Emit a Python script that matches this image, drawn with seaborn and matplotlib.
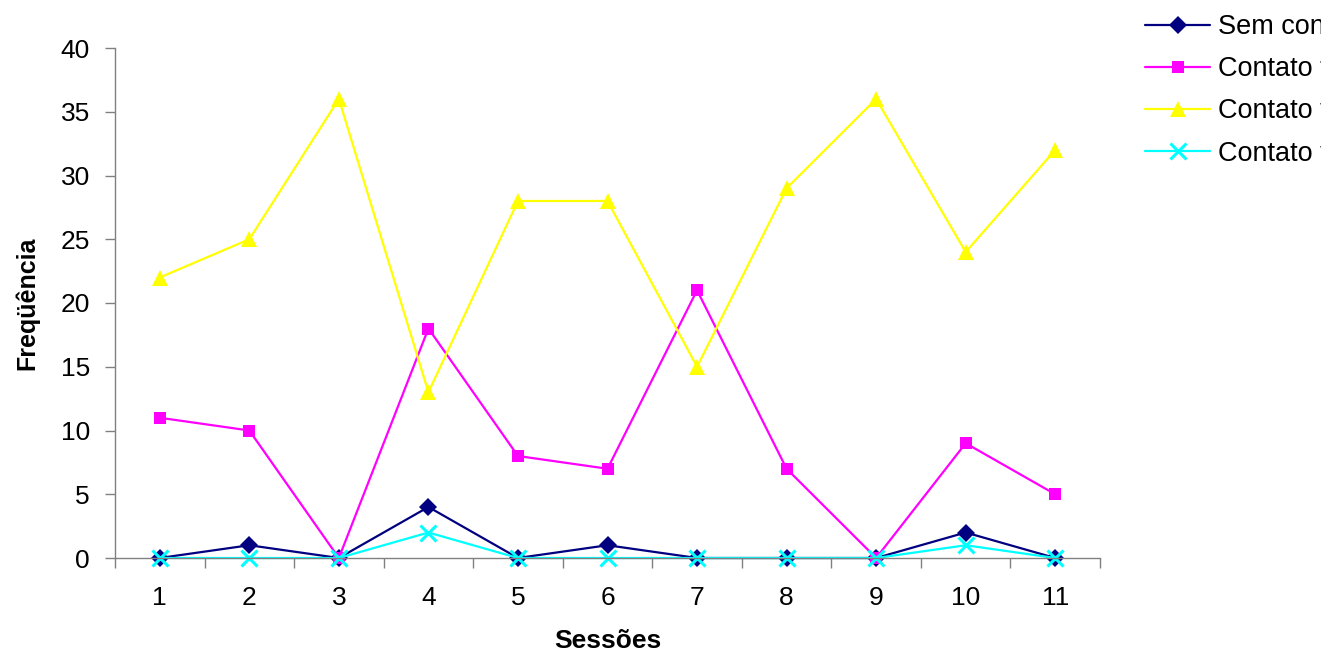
import matplotlib
matplotlib.use("Agg")
import matplotlib.pyplot as plt
import seaborn as sns
import pandas as pd

sessoes = [1, 2, 3, 4, 5, 6, 7, 8, 9, 10, 11]
sem_contato = [0, 1, 0, 4, 0, 1, 0, 0, 0, 2, 0]
contato_a = [11, 10, 0, 18, 8, 7, 21, 7, 0, 9, 5]
contato_b = [22, 25, 36, 13, 28, 28, 15, 29, 36, 24, 32]
contato_c = [0, 0, 0, 2, 0, 0, 0, 0, 0, 1, 0]
labels = ["Sem contato", "Contato físico", "Contato visual", "Contato verbal"]

sns.set_style("white")
plt.rcParams['font.family'] = ['Liberation Sans', 'DejaVu Sans']
plt.rcParams['text.color'] = 'black'
plt.rcParams['axes.labelcolor'] = 'black'
plt.rcParams['xtick.labelcolor'] = 'black'
plt.rcParams['ytick.labelcolor'] = 'black'

fig = plt.figure(figsize=(13.21, 6.53), dpi=100)
ax = fig.add_axes([115/1321, 95/653, 985/1321, 510/653])

series = [
    (sem_contato, "#000080", "D", 9, 1.6),
    (contato_a, "#FF00FF", "s", 9, 1.6),
    (contato_b, "#FFFF00", "^", 11, 1.6),
    (contato_c, "#00FFFF", "x", 12, 1.6),
]
for (vals, col, mk, ms, lw), lab in zip(series, labels):
    df = pd.DataFrame({"Sessões": sessoes, "Freq": vals})
    kw = dict(markeredgewidth=2.2) if mk == "x" else dict(markeredgewidth=0)
    sns.lineplot(data=df, x="Sessões", y="Freq", ax=ax, color=col, marker=mk,
                 markersize=ms, linewidth=lw, label=lab, clip_on=False,
                 markeredgecolor=col, **kw)

ax.set_xlim(0.5, 11.5)
ax.set_ylim(0, 40)
ax.set_yticks(range(0, 41, 5))
ax.set_xticks([x + 0.5 for x in range(0, 12)])
ax.set_xticklabels([])
ax.set_xticks(sessoes, minor=True)
ax.set_xticklabels([str(s) for s in sessoes], minor=True)
ax.tick_params(axis='x', which='major', direction='out', length=7, width=1, color='#808080', bottom=True)
ax.tick_params(axis='x', which='minor', length=0, pad=20, labelsize=19)
ax.tick_params(axis='y', direction='out', length=7, width=1, color='#808080', left=True, labelsize=19, pad=11)
for s in ['top', 'right']:
    ax.spines[s].set_visible(False)
for s in ['left', 'bottom']:
    ax.spines[s].set_color('#808080')
    ax.spines[s].set_linewidth(1)

ax.set_xlabel("Sessões", fontsize=19, fontweight='bold', labelpad=14)
ax.set_ylabel("Freqüência", fontsize=18, fontweight='bold', labelpad=15)

ax.get_legend().remove()
h, l = ax.get_legend_handles_labels()
fig.legend(h, l, loc='upper left', bbox_to_anchor=(1145/1321, 1 - 14/653), frameon=False,
           fontsize=19.5, handlelength=2.4, labelspacing=0.6, handletextpad=0.3,
           borderpad=0, borderaxespad=0)

fig.savefig("out.png", dpi=100)
